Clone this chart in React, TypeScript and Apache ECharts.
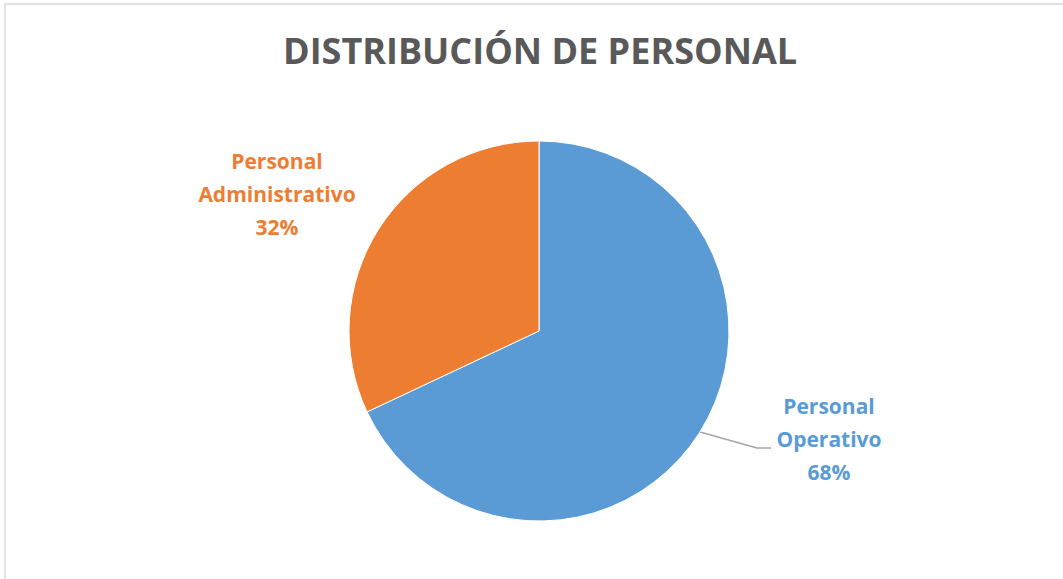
import React, { useEffect, useRef } from "react";
import * as echarts from "echarts";

const titleText = "DISTRIBUCIÓN DE PERSONAL";
const categories = ["Personal Operativo", "Personal Administrativo"];
const values = [68, 32];
const colors = ["#5B9BD5", "#ED7D31"];

export default function App() {
  const ref = useRef<HTMLDivElement>(null);
  useEffect(() => {
    if (!ref.current) return;
    const chart = echarts.init(ref.current, null, { renderer: "svg" });
    const font = "'Open Sans', 'Noto Sans', sans-serif";
    chart.setOption({
      animation: false,
      backgroundColor: "#ffffff",
      title: {
        text: titleText,
        left: 278,
        top: 23,
        textStyle: {
          fontFamily: font,
          fontWeight: "bold",
          fontSize: 36,
          color: "#595959",
          lineHeight: 44,
        },
      },
      graphic: [
        {
          type: "rect",
          shape: { x: 5, y: 4, width: 1100, height: 620 },
          style: { fill: "none", stroke: "#d9d9d9", lineWidth: 1.5 },
          silent: true,
        },
      ],
      series: [
        {
          type: "pie",
          center: [539, 331],
          radius: 190,
          startAngle: 90,
          clockwise: true,
          itemStyle: { borderColor: "#ffffff", borderWidth: 1 },
          label: {
            show: true,
            fontFamily: font,
            fontWeight: "bold",
            fontSize: 21,
            lineHeight: 33,
            align: "center",
            formatter: (p: any) => p.name.replace(" ", "\n") + "\n" + Math.round(p.percent) + "%",
          },
          labelLine: { show: true, lineStyle: { color: "#a6a6a6", width: 1.5 } },
          labelLayout: (p: any) => {
            if (p.dataIndex === 0) {
              return {
                x: 829,
                y: 439,
                align: "center",
                verticalAlign: "middle",
                labelLinePoints: [
                  [700, 432],
                  [757, 448],
                  [771, 448],
                ],
              };
            }
            return { x: 277, y: 194, align: "center", verticalAlign: "middle" };
          },
          data: categories.map((c, i) => ({
            name: c,
            value: values[i],
            itemStyle: { color: colors[i] },
            label: { color: colors[i] },
            labelLine: { show: i === 0 },
          })),
        },
      ],
    });
    return () => chart.dispose();
  }, []);
  return (
    <div
      ref={ref}
      style={{ position: "fixed", left: 0, top: 0, width: 1063, height: 579 }}
    />
  );
}
